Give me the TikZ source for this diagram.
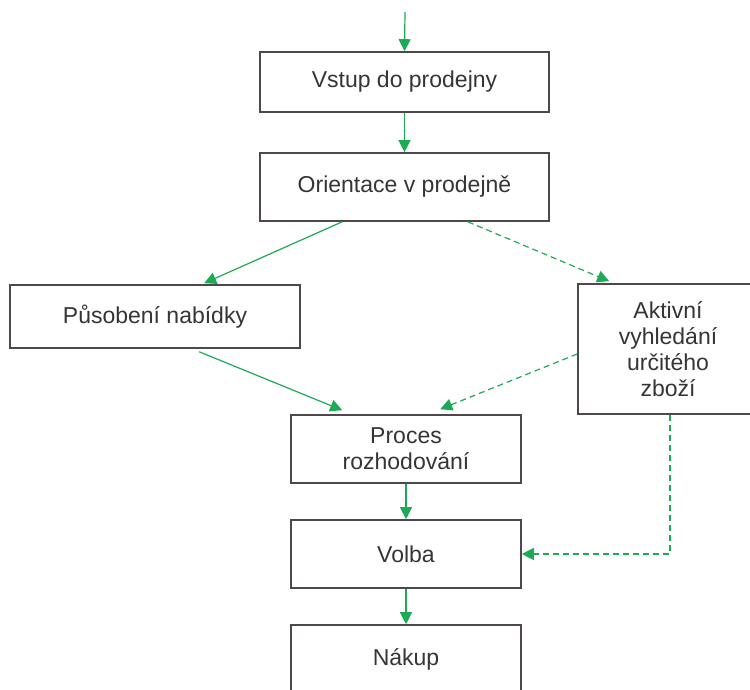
\documentclass[tikz,border=0pt]{standalone}
\usepackage{fontspec}
\setmainfont{Liberation Sans}
\usetikzlibrary{arrows.meta,calc}
\definecolor{flowgreen}{HTML}{1CAA55}
\definecolor{boxgray}{HTML}{4F4848}
\definecolor{txtgray}{HTML}{353535}
\begin{document}
\begin{tikzpicture}[x=1pt,y=-1pt,
  box/.style={draw=boxgray,line width=1.6pt,fill=white,text=txtgray,
    font=\fontsize{23}{26}\selectfont,align=center,inner sep=0pt},
  flow/.style={draw=flowgreen,line width=1.2pt,
    -{Triangle[length=12pt,width=12pt,fill=flowgreen]}},
  dflow/.style={flow,dash pattern=on 6pt off 4pt}]
\useasboundingbox (0,0) rectangle (750,690);
\clip (0,0) rectangle (750,690);
\coordinate (start) at (405,12);
\node[box,minimum width=289pt,minimum height=60pt] (in) at (404.5,82) {Vstup do prodejny};
\node[box,minimum width=289pt,minimum height=68pt] (orient) at (404.5,187) {Orientace v prodejně};
\node[box,minimum width=290pt,minimum height=63pt] (pus) at (155,316.5) {Působení nabídky};
\node[box,minimum width=180pt,minimum height=130pt] (akt) at (668,349) {Aktivní\\vyhledání\\určitého\\zboží};
\node[box,minimum width=230pt,minimum height=68pt] (proc) at (406,449) {Proces\\rozhodování};
\node[box,minimum width=230pt,minimum height=68pt] (volba) at (406,554) {Volba};
\node[box,minimum width=230pt,minimum height=68pt] (nakup) at (406,659) {Nákup};
\draw[flow] (start) -- (in.north);
\draw[flow] (in.south) -- (orient.north);
\draw[flow] ([xshift=83pt]orient.south west) -- ([xshift=195pt,yshift=1pt]pus.north west);
\draw[flow] ([xshift=190pt,yshift=-3pt]pus.south west) -- ([xshift=52pt,yshift=4pt]proc.north west);
\draw[dflow] ([xshift=-82pt]orient.south east) -- ([xshift=32pt,yshift=2pt]akt.north west);
\draw[dflow] ([yshift=-5pt]akt.west) -- ([xshift=150pt,yshift=5pt]proc.north west);
\draw[dflow] ([xshift=2pt]akt.south) |- (volba.east);
\draw[flow] (proc.south) -- (volba.north);
\draw[flow] (volba.south) -- (nakup.north);
\end{tikzpicture}
\end{document}
